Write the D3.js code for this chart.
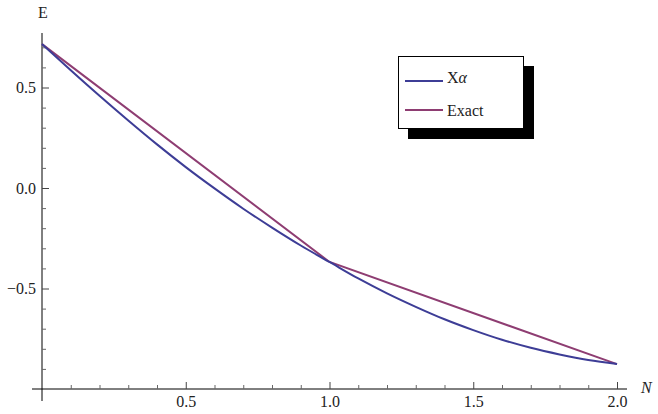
<!DOCTYPE html>
<html><head><meta charset="utf-8">
<script src="https://cdn.jsdelivr.net/npm/d3@7"></script>
<style>
html,body{margin:0;padding:0;background:#fff;}
svg{display:block;}
</style></head>
<body><svg id="c" width="658" height="414"></svg>
<script>
// Data
const nValues = [0,0.1,0.2,0.3,0.4,0.5,0.6,0.7,0.8,0.9,1.0,1.1,1.2,1.3,1.4,1.5,1.6,1.7,1.8,1.9,2.0];
const xAlpha = [0.716,0.586,0.459,0.336,0.217,0.104,-0.002,-0.103,-0.197,-0.286,-0.368,-0.450,-0.524,-0.591,-0.653,-0.707,-0.755,-0.795,-0.828,-0.856,-0.876];
const exactN = [0,1,2];
const exactE = [0.716,-0.368,-0.876];
const seriesNames = ["Xα","Exact"];
const seriesColors = ["#3d3d96","#8e3d72"];
const xMajorTicks = [0.5,1.0,1.5,2.0];
const yMajorTicks = [0.5,0.0,-0.5];
const xMinorTicks = [0.1,0.2,0.3,0.4,0.6,0.7,0.8,0.9,1.1,1.2,1.3,1.4,1.6,1.7,1.8,1.9];
const yMinorTicks = [0.7,0.6,0.4,0.3,0.2,0.1,-0.1,-0.2,-0.3,-0.4,-0.6,-0.7,-0.8,-0.9];

const FONT = "'Liberation Serif', 'Times New Roman', serif";
const FS = "16px";
const svg = d3.select("#c");
const x = d3.scaleLinear().domain([0,2]).range([42,617]);
const y = d3.scaleLinear().domain([-1,0]).range([389,188]);

// axis lines
svg.append("line").attr("x1",32).attr("x2",627).attr("y1",y(-1)).attr("y2",y(-1)).attr("stroke","#000").attr("stroke-width",1);
svg.append("line").attr("x1",x(0)).attr("x2",x(0)).attr("y1",33).attr("y2",401).attr("stroke","#000").attr("stroke-width",1);

// x axis major
const gx = svg.append("g").attr("transform",`translate(0,${y(-1)})`)
  .call(d3.axisBottom(x).tickValues(xMajorTicks).tickFormat(d3.format(".1f")).tickSizeInner(-7).tickSizeOuter(0).tickPadding(7));
gx.select(".domain").remove();
gx.selectAll("line").attr("stroke","#444");
gx.selectAll("text").style("font-size",FS).style("font-family",FONT).attr("fill","#222");
const gx2 = svg.append("g").attr("transform",`translate(0,${y(-1)})`)
  .call(d3.axisBottom(x).tickValues(xMinorTicks).tickFormat("").tickSizeInner(-4).tickSizeOuter(0));
gx2.select(".domain").remove();
gx2.selectAll("line").attr("stroke","#666");

// y axis
const gy = svg.append("g").attr("transform",`translate(${x(0)},0)`)
  .call(d3.axisLeft(y).tickValues(yMajorTicks).tickFormat(d3.format(".1f")).tickSizeInner(-7).tickSizeOuter(0).tickPadding(6));
gy.select(".domain").remove();
gy.selectAll("line").attr("stroke","#444");
gy.selectAll("text").style("font-size",FS).style("font-family",FONT).attr("fill","#222");
const gy2 = svg.append("g").attr("transform",`translate(${x(0)},0)`)
  .call(d3.axisLeft(y).tickValues(yMinorTicks).tickFormat("").tickSizeInner(-4).tickSizeOuter(0));
gy2.select(".domain").remove();
gy2.selectAll("line").attr("stroke","#666");

// axis labels
svg.append("text").attr("x",x(0)+1).attr("y",18).attr("text-anchor","middle").style("font-size",FS).style("font-family",FONT).attr("fill","#222").text("E");
svg.append("text").attr("x",641).attr("y",393).style("font-size",FS).style("font-family",FONT).style("font-style","italic").attr("fill","#222").text("N");

// lines
const line = d3.line().x(d=>x(d[0])).y(d=>y(d[1]));
svg.append("path").datum(d3.zip(exactN,exactE)).attr("d",line).attr("fill","none").attr("stroke",seriesColors[1]).attr("stroke-width",2);
svg.append("path").datum(d3.zip(nValues,xAlpha)).attr("d",line.curve(d3.curveMonotoneX)).attr("fill","none").attr("stroke",seriesColors[0]).attr("stroke-width",2);

// legend
const lg = svg.append("g");
lg.append("rect").attr("x",408).attr("y",66).attr("width",126).attr("height",73).attr("fill","#000");
lg.append("rect").attr("x",398.5).attr("y",56.5).attr("width",125).attr("height",72).attr("fill","#fff").attr("stroke","#000").attr("stroke-width",1);
const ly = [81,110];
const tb = [83,116];
seriesNames.forEach((nm,i)=>{
  lg.append("line").attr("x1",405).attr("x2",443).attr("y1",ly[i]).attr("y2",ly[i]).attr("stroke",seriesColors[i]).attr("stroke-width",2);
  const t = lg.append("text").attr("x",447).attr("y",tb[i]).style("font-size",FS).style("font-family",FONT).attr("fill","#222");
  if(nm==="Xα"){ t.append("tspan").text("X"); t.append("tspan").style("font-style","italic").text("α"); }
  else t.text(nm);
});
</script></body></html>
